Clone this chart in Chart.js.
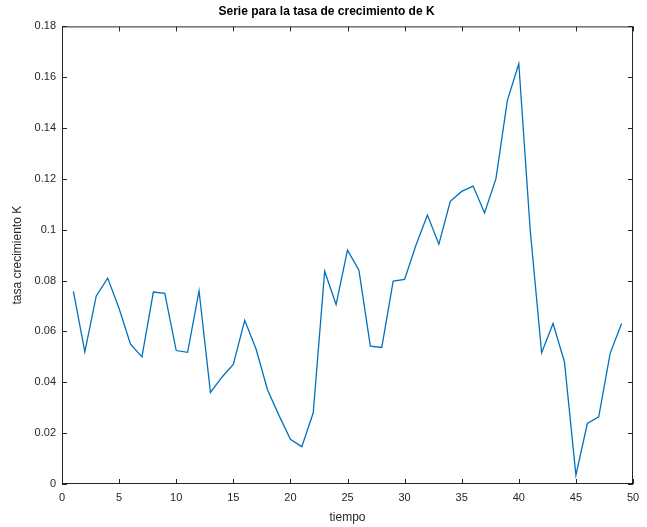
<!DOCTYPE html>
<html>
<head>
<meta charset="utf-8">
<script src="https://cdn.jsdelivr.net/npm/chart.js@4.4.1/dist/chart.umd.min.js"></script>
<style>
  html, body { margin: 0; padding: 0; background: #fff; }
  #wrap { width: 647px; height: 527px; }
</style>
</head>
<body>
<div id="wrap"><canvas id="grafica"></canvas></div>
<script>
// tiempo (eje x) y tasa de crecimiento de K
const tiempo = [1, 2, 3, 4, 5, 6, 7, 8, 9, 10, 11, 12, 13, 14, 15, 16, 17, 18, 19, 20,
  21, 22, 23, 24, 25, 26, 27, 28, 29, 30, 31, 32, 33, 34, 35, 36, 37, 38, 39, 40,
  41, 42, 43, 44, 45, 46, 47, 48, 49];
const tasaK = [0.0758, 0.052, 0.074, 0.081, 0.069, 0.055, 0.050, 0.0755, 0.075, 0.0525,
  0.0518, 0.076, 0.036, 0.042, 0.047, 0.0644, 0.053, 0.037, 0.027, 0.0176,
  0.0147, 0.028, 0.0837, 0.0706, 0.092, 0.0841, 0.0542, 0.0537, 0.0798, 0.0805,
  0.094, 0.1058, 0.0943, 0.1112, 0.1151, 0.1172, 0.1066, 0.1201, 0.1509, 0.1653,
  0.0998, 0.0516, 0.0631, 0.048, 0.0035, 0.0238, 0.0264, 0.0514, 0.0631];
const xTicks = ['0', '5', '10', '15', '20', '25', '30', '35', '40', '45', '50'];
const yTicks = ['0', '0.02', '0.04', '0.06', '0.08', '0.1', '0.12', '0.14', '0.16', '0.18'];

const axisColor = '#262626';
const fontFam = '"Liberation Sans", Arial, Helvetica, sans-serif';

// marco tipo matlab con marcas hacia dentro
const boxTicks = {
  id: 'boxTicks',
  afterDraw(chart) {
    const { ctx, chartArea: a, scales } = chart;
    ctx.save();
    ctx.strokeStyle = axisColor;
    ctx.lineWidth = 1;
    ctx.strokeRect(a.left + 0.5, a.top + 0.5, a.right - a.left - 1, a.bottom - a.top - 1);
    const len = 5;
    ctx.beginPath();
    scales.x.ticks.forEach(t => {
      const px = Math.round(scales.x.getPixelForValue(t.value)) + 0.5;
      ctx.moveTo(px, a.bottom); ctx.lineTo(px, a.bottom - len);
      ctx.moveTo(px, a.top); ctx.lineTo(px, a.top + len);
    });
    scales.y.ticks.forEach(t => {
      const py = Math.round(scales.y.getPixelForValue(t.value)) + 0.5;
      ctx.moveTo(a.left, py); ctx.lineTo(a.left + len, py);
      ctx.moveTo(a.right, py); ctx.lineTo(a.right - len, py);
    });
    ctx.stroke();
    ctx.restore();
  }
};

const graph = document.querySelector('#grafica');

new Chart(graph, {
  type: 'line',
  data: {
    datasets: [{
      data: tiempo.map((t, i) => ({ x: t, y: tasaK[i] })),
      borderColor: '#0072BD',
      borderWidth: 1.3,
      pointRadius: 0,
      fill: false,
      tension: 0
    }]
  },
  options: {
    responsive: true,
    maintainAspectRatio: false,
    animation: false,
    layout: { padding: { left: 20, right: 14, top: 0, bottom: 0 } },
    plugins: {
      legend: { display: false },
      tooltip: { enabled: false },
      title: {
        display: true,
        text: 'Serie para la tasa de crecimiento de K',
        color: '#000',
        font: { family: fontFam, size: 12, weight: 'bold' },
        padding: { top: 4, bottom: 8 }
      }
    },
    scales: {
      x: {
        type: 'linear',
        min: 0,
        max: 50,
        ticks: {
          stepSize: 5,
          color: axisColor,
          padding: 7,
          maxRotation: 0,
          font: { family: fontFam, size: 11 },
          callback: (v, i) => xTicks[i]
        },
        grid: { drawOnChartArea: false, drawTicks: false },
        border: { display: false },
        title: {
          display: true,
          text: 'tiempo',
          color: axisColor,
          font: { family: fontFam, size: 12 },
          padding: { top: 2, bottom: 2 }
        },
        afterFit(s) { s.height = 43; }
      },
      y: {
        min: 0,
        max: 0.18,
        ticks: {
          stepSize: 0.02,
          color: axisColor,
          padding: 6,
          font: { family: fontFam, size: 11 },
          callback: (v, i) => yTicks[i]
        },
        grid: { drawOnChartArea: false, drawTicks: false },
        border: { display: false },
        title: {
          display: true,
          text: 'tasa crecimiento K',
          color: axisColor,
          font: { family: fontFam, size: 12 },
          padding: { top: -10, bottom: 2 }
        },
        afterFit(s) { s.width = 42; }
      }
    }
  },
  plugins: [boxTicks]
});
</script>
</body>
</html>
